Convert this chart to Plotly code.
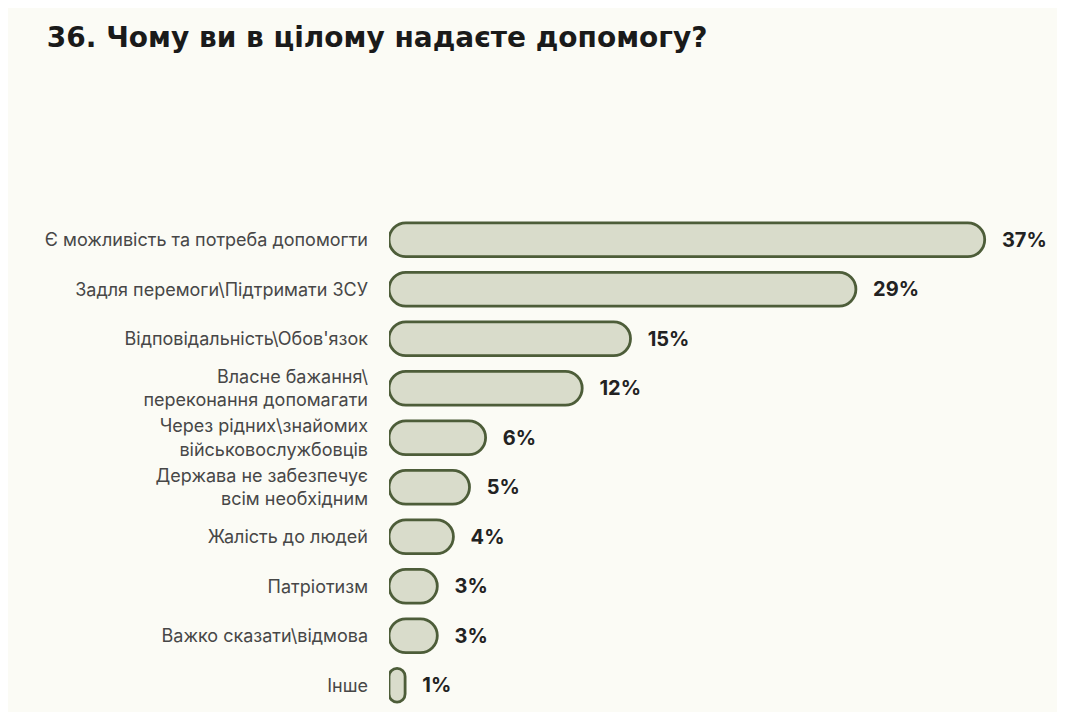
import plotly.graph_objects as go

# data (top to bottom as in the picture)
categories = [
    "Є можливість та потреба допомогти",
    "Задля перемоги\\Підтримати ЗСУ",
    "Відповідальність\\Обов'язок",
    "Власне бажання\\<br>переконання допомагати",
    "Через рідних\\знайомих<br>військовослужбовців",
    "Держава не забезпечує<br>всім необхідним",
    "Жалість до людей",
    "Патріотизм",
    "Важко сказати\\відмова",
    "Інше",
]
values = [37, 29, 15, 12, 6, 5, 4, 3, 3, 1]
value_labels = ["37%", "29%", "15%", "12%", "6%", "5%", "4%", "3%", "3%", "1%"]

FILL = "#d9dccb"
EDGE = "#4d5d39"
BG = "#fbfbf5"

fig = go.Figure()

# explicit base -> plotly rounds both ends of the bar (pill shape)
fig.add_trace(go.Bar(
    y=categories, x=values, base=[0] * len(values), orientation="h",
    width=0.68,
    marker=dict(color=FILL, line=dict(color=EDGE, width=2.8), cornerradius="50%"),
    text=["\u00a0\u00a0\u00a0" + t for t in value_labels],
    textposition="outside", cliponaxis=False,
    textfont=dict(family="Inter", size=20, color="#222222", weight="bold"),
    hoverinfo="skip", showlegend=False,
))

fig.update_layout(
    width=1049, height=704,
    paper_bgcolor=BG, plot_bgcolor=BG,
    margin=dict(l=381, r=24, t=207, b=2),
    title=dict(text="<b>36. Чому ви в цілому надаєте допомогу?</b>",
               x=0.037, xanchor="left", y=0.959, yanchor="middle",
               font=dict(family="DejaVu Sans", size=28, color="#1a1a1a")),
    font=dict(family="Inter", color="#444444"),
)
fig.update_xaxes(range=[0, 40], visible=False)
fig.update_yaxes(autorange="reversed", showgrid=False, zeroline=False,
                 ticks="", ticklabelstandoff=20,
                 tickfont=dict(family="Inter", size=18, color="#474747"))

fig.write_html("out.html")
